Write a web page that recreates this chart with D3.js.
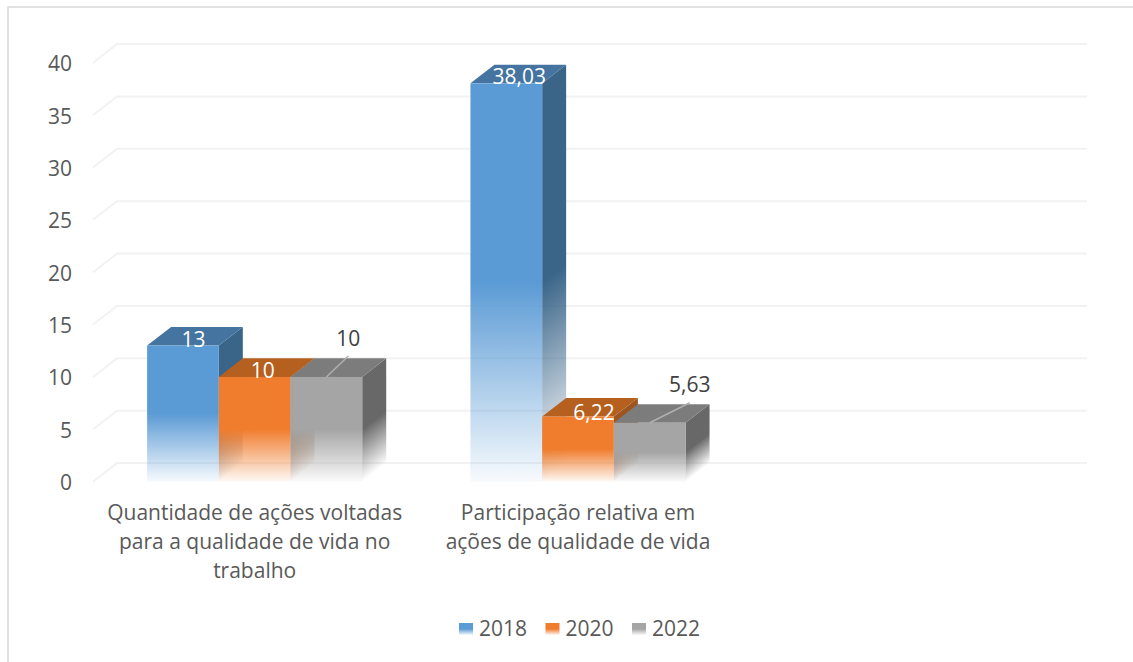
<!DOCTYPE html>
<html><head><meta charset="utf-8">
<script src="https://cdn.jsdelivr.net/npm/d3@7/dist/d3.min.js"></script>
<style>html,body{margin:0;padding:0;background:#fff}svg{display:block}text{font-family:"Open Sans",sans-serif}</style>
</head><body><svg id="c" width="1133" height="662"></svg>
<script>
const categories = ["Quantidade de ações voltadas|para a qualidade de vida no|trabalho", "Participação relativa em|ações de qualidade de vida", ""];
const seriesNames = ["2018", "2020", "2022"];
const values2018 = [13, 38.03];
const values2020 = [10, 6.22];
const values2022 = [10, 5.63];
const labels2018 = ["13", "38,03"];
const labels2020 = ["10", "6,22"];
const labels2022 = ["10", "5,63"];
const yTicks = [0, 5, 10, 15, 20, 25, 30, 35, 40];
const frontColors = ["#5b9bd5", "#f07d2e", "#a5a5a5"];
const topColors = ["#44749f", "#b5601f", "#7c7c7c"];
const sideColors = ["#3a6589", "#9c5420", "#686868"];

const svg = d3.select("#c");
const DX = 24, DY = -18.6;
const y = d3.scaleLinear().domain([0, 40]).range([481.7, 62.7]);
const x0 = d3.scaleBand().domain(categories).range([93, 1063]);
const gw = 71.7;
const barX = (c, s) => x0(categories[c]) + x0.bandwidth() / 2 + (s - 1.5) * gw;

// frame: only the top and left edges fall inside the picture
svg.append("path").attr("d", "M8,662V7H1133").attr("fill", "none")
  .attr("stroke", "#d9d9d9").attr("stroke-width", 1.5);

// gradients
const defs = svg.append("defs");
function grad(id, color, stop, endOp) {
  const g = defs.append("linearGradient").attr("id", id).attr("x1", 0).attr("x2", 0).attr("y1", 0).attr("y2", 1);
  g.append("stop").attr("offset", 0).attr("stop-color", color);
  g.append("stop").attr("offset", stop).attr("stop-color", color);
  g.append("stop").attr("offset", 1).attr("stop-color", color).attr("stop-opacity", endOp);
}
frontColors.forEach((c, i) => grad("f" + i, c, 0.5, 0.05));
sideColors.forEach((c, i) => grad("s" + i, c, 0.5, 0));

// grid: back wall lines and floor-side diagonals
const grid = svg.append("g").attr("fill", "none").attr("stroke", "#f2f2f2").attr("stroke-width", 2);
grid.selectAll("path").data(yTicks).join("path")
  .attr("d", d => `M${x0.range()[0]},${y(d)}L${x0.range()[0] + DX},${y(d) + DY}H${x0.range()[1] + DX}`);

// y axis
const axis = d3.axisLeft(y).tickValues(yTicks).tickSize(0).tickPadding(0);
const ga = svg.append("g").attr("transform", "translate(72,0)").call(axis);
ga.select(".domain").remove();
ga.selectAll("text").attr("font-size", 21).attr("fill", "#595959").attr("font-family", '"Open Sans",sans-serif').attr("dy", "0.38em");

// bars
const series = [values2018, values2020, values2022];
const barsG = svg.append("g");
categories.slice(0, 2).forEach((cat, c) => {
  series.forEach((vals, s) => {
    const v = vals[c], xl = barX(c, s), xr = barX(c, s + 1), yt = y(v), yb = y(0);
    const g = barsG.append("g");
    // side face: a rect sheared so its fade runs parallel to the floor edge
    g.append("rect").attr("width", DX).attr("height", yb - yt)
      .attr("transform", `matrix(1,${DY / DX},0,1,${xr},${yt})`)
      .attr("fill", `url(#s${s})`);
    g.append("path").attr("fill", topColors[s])
      .attr("d", `M${xl},${yt}L${xl + DX},${yt + DY}H${xr + DX}L${xr},${yt}Z`);
    g.append("rect").attr("x", xl).attr("y", yt).attr("width", xr - xl).attr("height", yb - yt)
      .attr("fill", `url(#f${s})`);
  });
});

// data labels
const labels = [labels2018, labels2020, labels2022];
const labelShift = [[[10.5, -6], [13, -7]], [[8, -7], [16, -4]], [[22, -39], [40, -38]]];
const lg = svg.append("g").attr("font-size", 21).attr("text-anchor", "middle");
categories.slice(0, 2).forEach((cat, c) => {
  labels.forEach((ls, s) => {
    const cx = (barX(c, s) + barX(c, s + 1)) / 2, yt = y(series[s][c]);
    const [sx, sy] = labelShift[s][c];
    if (s === 2) {
      lg.append("line").attr("x1", cx).attr("y1", yt).attr("x2", cx + sx).attr("y2", yt + sy + 18)
        .attr("stroke", "#b0b0b0").attr("stroke-width", 1.5);
    }
    lg.append("text").attr("x", cx + sx).attr("y", yt + sy).attr("dy", "0.36em")
      .attr("fill", s === 2 ? "#404040" : "#fff").text(ls[c]);
  });
});

// category labels
const cl = svg.append("g").attr("font-size", 21).attr("fill", "#595959").attr("text-anchor", "middle");
categories.slice(0, 2).forEach(cat => {
  cat.split("|").forEach((ln, i) => {
    cl.append("text").attr("x", x0(cat) + x0.bandwidth() / 2).attr("y", 512 + i * 29).attr("dy", "0.36em").text(ln);
  });
});

// legend
const legendX = d3.scalePoint().domain(seriesNames).range([459, 632]);
const leg = svg.append("g");
seriesNames.forEach((n, i) => {
  const g = leg.append("g").attr("transform", `translate(${legendX(n)},0)`);
  g.append("rect").attr("y", 623).attr("width", 14).attr("height", 12).attr("fill", `url(#f${i})`);
  g.append("text").attr("x", 20).attr("y", 628).attr("dy", "0.36em").attr("font-size", 21).attr("fill", "#595959").text(n);
});
</script></body></html>
